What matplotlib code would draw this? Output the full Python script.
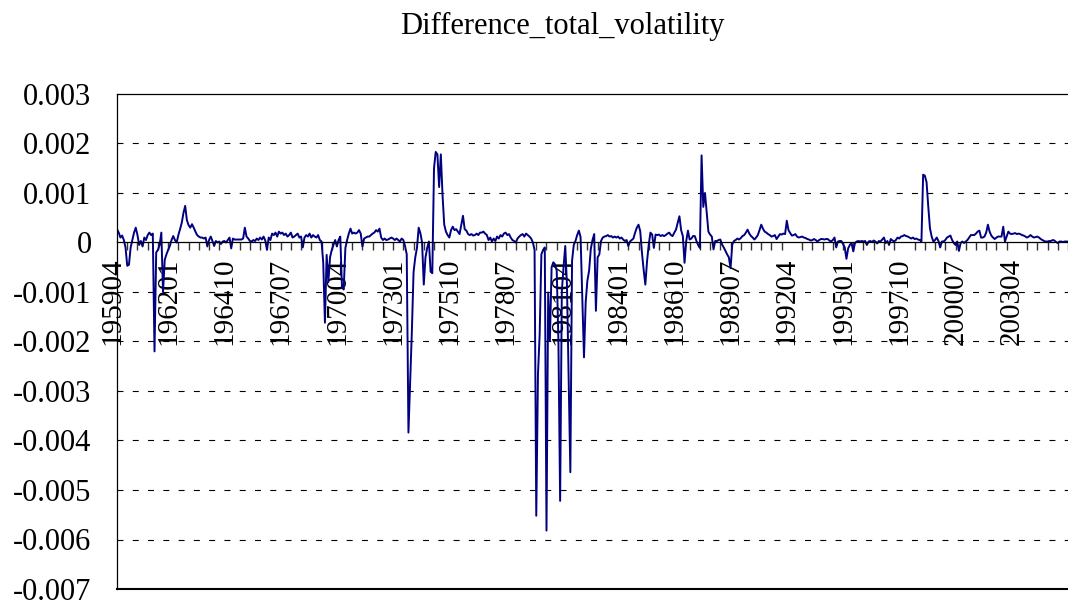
"""Difference_total_volatility, monthly line chart 1959-04 .. 2005-12 (Excel look).
"""
import matplotlib
matplotlib.use("Agg")
import matplotlib.pyplot as plt
import matplotlib.transforms as mtransforms
import numpy as np
import pandas as pd

plt.rcParams['font.family'] = ['Liberation Serif', 'DejaVu Serif']
plt.rcParams['lines.scale_dashes'] = False

# monthly values in units of 1e-5, one row per calendar year
vol_1959_1969 = [
    27, 20, 10, 14, 5, -10, -47, -45, -10,                 # 1959 Apr-Dec
    5, 20, 30, 15, -5, 3, -8, 10, 5, 15, 20, 15,           # 1960
    18, -220, -20, -15, -5, 20, -100, -35, -24, -15, -7, 5,  # 1961
    13, 5, 0, 15, 27, 40, 60, 74, 45, 35, 30, 37,          # 1962
    30, 22, 15, 12, 10, 10, 8, 10, -8, 5, 12, 3,           # 1963
    -7, 3, 0, 2, -3, 2, 3, 0, 5, 10, -12, 8,               # 1964
    6, 6, 6, 6, 6, 8, 30, 12, 8, 3, 2, 5,                  # 1965
    3, 8, 5, 10, 6, 12, 4, -15, 10, 5, 18, 15,             # 1966
    20, 12, 22, 18, 20, 15, 18, 12, 15, 20, 10, 12,        # 1967
    15, 18, 10, 12, -10, 10, 15, 12, 18, 10, 15, 12,       # 1968
    10, 15, 5, 2, -40, -162, -25, -80, -30, -15, -5, 5,    # 1969
]
vol_1970s = [
    -8, 5, 12, -90, -95, -11, 5, 18, 28, 18, 20, 18,
    20, 25, 18, -8, 8, 10, 12, 12, 15, 18, 20, 25,
    22, 28, 10, 5, 8, 5, 6, 8, 10, 8, 5, 8,
    5, 2, 8, 5, -7, -24, -384, -280, -180, -60, -30, -11,
    30, 19, 0, -85, -30, -11, 2, -59, -62, 150, 183, 178,
    112, 178, 96, 36, 22, 15, 10, 25, 32, 25, 27, 22,
    17, 35, 54, 27, 24, 17, 15, 17, 14, 15, 18, 15,
    20, 20, 22, 18, 15, 5, 10, 2, 8, 3, 12, 8,
    15, 12, 18, 20, 15, 17, 10, 5, 3, 0, 8, 12,
    15, 17, 12, 18, 15, 12, 8, 0, -15, -552, -266, -185,
]
vol_1980s = [
    -24, -15, -10, -582, -101, -199, -50, -40, -44, -57, -199, -522,
    -98, -50, -7, -84, -270, -464, -37, -5, 3, 15, 24, 11,
    -110, -232, -120, -77, -57, -13, 5, 17, -138, -30, -24, 3,
    10, 12, 13, 15, 12, 13, 10, 12, 10, 12, 8, 10,
    6, 3, 5, -7, 2, 5, 8, 20, 30, 36, 23, -20,
    -55, -85, -38, -4, 20, 16, -11, 16, 15, 16, 13, 15,
    13, 15, 18, 20, 15, 13, 20, 26, 40, 53, 25, 13,
    -41, 3, 24, 6, 8, 13, 13, 3, -5, -11, 176, 72,
    100, 62, 22, 16, 12, -14, 3, 3, 5, 6, -4, -10,
    -17, -24, -30, -52, -4, 3, 5, 8, 6, 9, 13, 15,
]
vol_1990s = [
    20, 26, 18, 13, 10, 6, 10, 15, 25, 36, 28, 22,
    20, 17, 15, 12, 13, 15, 7, 12, 17, 16, 18, 17,
    44, 25, 19, 14, 15, 17, 12, 10, 11, 12, 10, 9,
    7, 6, 4, 5, 7, 5, 2, 5, 7, 7, 6, 7,
    7, 4, 2, 5, 10, -10, 2, 3, 3, -3, -10, -33,
    -12, -5, -1, -18, -1, 2, 3, 2, 3, 2, 3, -5,
    2, 3, 1, 4, 2, -2, 3, 2, 6, 10, -1, 3,
    -5, 7, 4, 2, 5, 10, 8, 12, 13, 15, 13, 12,
    10, 8, 10, 7, 8, 6, 5, 2, 137, 135, 122, 73,
    29, 12, 2, 5, 10, 3, -10, 2, 2, 5, 10, 12,
]
vol_2000s = [
    14, 5, -1, -5, 2, -17, -1, 2, -1, 2, 5, 10,
    15, 15, 15, 18, 22, 24, 10, 10, 12, 20, 36, 22,
    14, 10, 7, 10, 12, 12, 12, 32, 2, 12, 22, 18,
    17, 18, 19, 17, 18, 17, 15, 14, 12, 10, 12, 15,
    12, 10, 11, 12, 10, 7, 5, 3, 2, 2, 3, 3,
    5, 4, 1, -1, 2, 2, 1, 2, 2, 2, 2, 2,
]

y_ticks = [0.003, 0.002, 0.001, 0, -0.001, -0.002, -0.003, -0.004, -0.005, -0.006, -0.007]
y_labels = ['0.003', '0.002', '0.001', '0', '-0.001', '-0.002', '-0.003',
            '-0.004', '-0.005', '-0.006', '-0.007']

values = np.array(vol_1959_1969 + vol_1970s + vol_1980s + vol_1990s + vol_2000s) * 1e-5
months = pd.period_range('1959-04', periods=len(values), freq='M')
x = np.arange(len(values))

fig = plt.figure(figsize=(10.68, 6.07), dpi=100)
ax = fig.add_axes([116.5 / 1068, 1 - 589 / 607, 1 - 116.5 / 1068, (589 - 94) / 607])

# dashed gridlines, solid zero axis
for yv in y_ticks[1:-1]:
    if yv != 0:
        ax.axhline(yv, color='black', lw=0.8, dashes=(4.3, 6.7), zorder=1)
ax.axhline(-0.007, color='black', lw=1.5, clip_on=False, zorder=3)

ax.plot(x, values, color='#000080', lw=1.4, zorder=2)

ax.set_xlim(-0.3, 557.8)
ax.set_ylim(-0.007, 0.003)

ax.spines['bottom'].set_position(('data', 0))
ax.spines['bottom'].set_linewidth(0.9)
ax.spines['right'].set_visible(False)
ax.spines['left'].set_linewidth(0.9)
ax.spines['top'].set_linewidth(0.9)

ax.set_yticks(y_ticks)
ax.set_yticklabels(y_labels)
ax.tick_params(axis='y', length=0, pad=18, labelsize=22)

label_pos = x[::33]
ax.set_xticks(label_pos)
ax.set_xticklabels([m.strftime('%Y%m') for m in months[::33]], rotation=90)
ax.set_xticks(x[6::6], minor=True)
ax.tick_params(axis='x', which='major', length=0, pad=11, labelsize=21)
ax.tick_params(axis='x', which='minor', length=5.5, width=1.0, color='#333333', direction='out')

shift = mtransforms.ScaledTranslation(-5 / 100, 0, fig.dpi_scale_trans)
for lab in ax.get_xticklabels():
    lab.set_transform(lab.get_transform() + shift)
    lab.set_va('top')

fig.text(562.5 / 1068, 1 - 26 / 607, 'Difference_total_volatility',
         ha='center', va='center', fontsize=22)

fig.savefig('out.png', dpi=100)
